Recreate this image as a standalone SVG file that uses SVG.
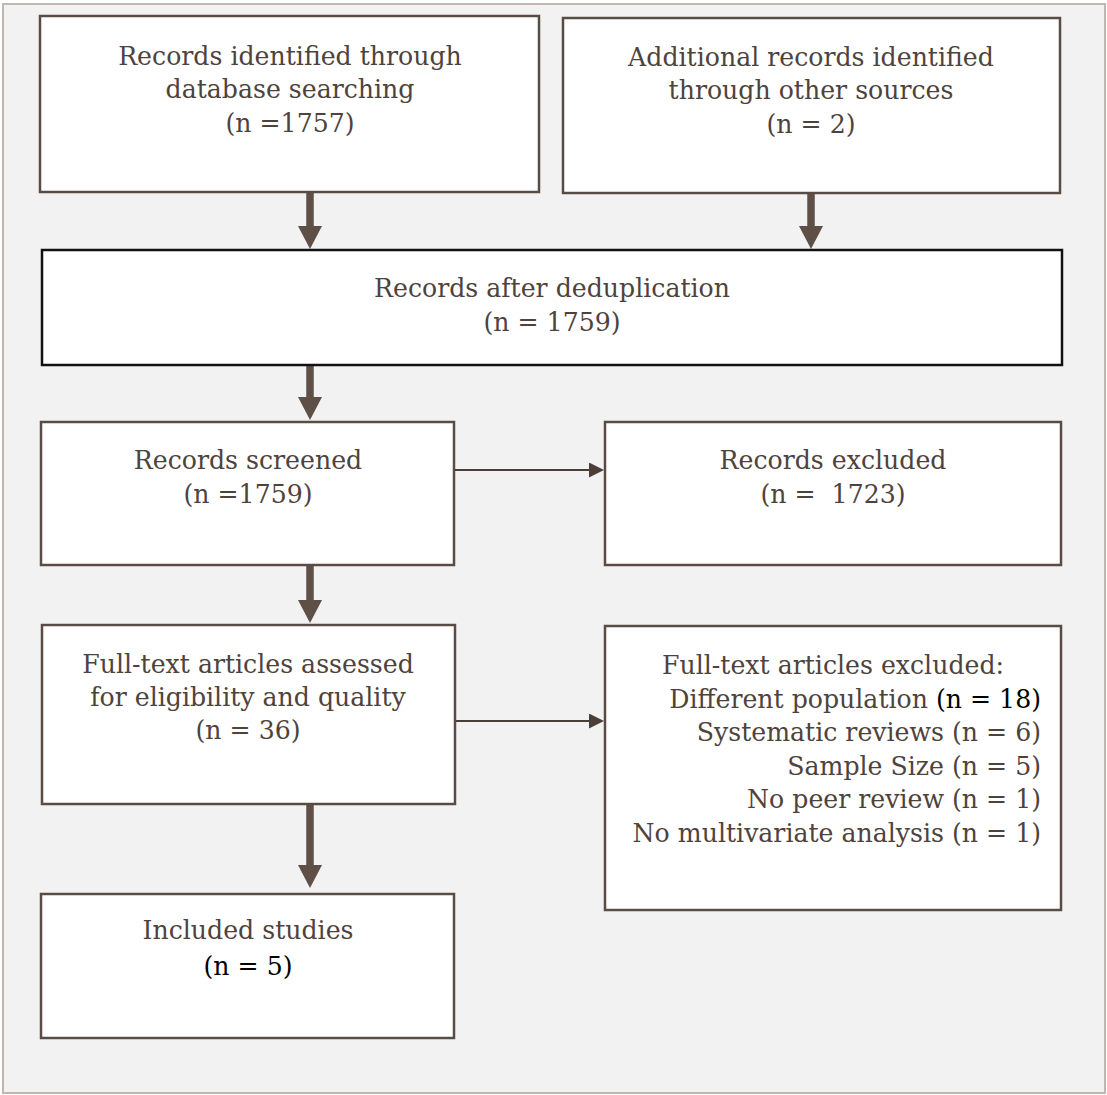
<svg xmlns="http://www.w3.org/2000/svg" width="1107" height="1095" viewBox="0 0 1107 1095">
  <defs>
    <style>
      .box { fill: #ffffff; stroke: #594c45; stroke-width: 2.5; }
      .boxdark { fill: #ffffff; stroke: #111111; stroke-width: 2.5; }
      .t { font-family: "DejaVu Serif", "Liberation Serif", serif; font-size: 25.2px; fill: #4e433c; text-anchor: middle; }
      .r { text-anchor: end; }
      .k { fill: #000000; }
      .thick { stroke: #5e5047; stroke-width: 7.5; fill: none; marker-end: url(#bigHead); }
      .thin { stroke: #4a3f38; stroke-width: 2; fill: none; marker-end: url(#smallHead); }
    </style>
    <marker id="bigHead" markerUnits="userSpaceOnUse" markerWidth="24" markerHeight="24" viewBox="0 0 23 24" refX="1" refY="12" orient="auto">
      <path d="M0,0 L23,12 L0,24 Z" fill="#5e5047"/>
    </marker>
    <marker id="smallHead" markerUnits="userSpaceOnUse" markerWidth="15" markerHeight="15" viewBox="0 0 15 15" refX="1" refY="7.5" orient="auto">
      <path d="M0,0 L15,7.5 L0,15 Z" fill="#4a3f38"/>
    </marker>
  </defs>

  <rect id="frame" x="3" y="4" width="1102" height="1089" fill="#f2f2f2" stroke="#c2b7b0" stroke-width="2"/>

  <g id="connectors">
    <line class="thick" x1="310" y1="193" x2="310" y2="227"/>
    <line class="thick" x1="811" y1="194" x2="811" y2="227"/>
    <line class="thick" x1="310" y1="366" x2="310" y2="398"/>
    <line class="thick" x1="310" y1="566" x2="310" y2="601"/>
    <line class="thick" x1="310" y1="805" x2="310" y2="866"/>
    <line class="thin" x1="455" y1="470" x2="590" y2="470"/>
    <line class="thin" x1="455" y1="721" x2="590" y2="721"/>
  </g>

  <g id="node-db">
    <rect class="box" x="40" y="16" width="499" height="176"/>
    <text class="t" x="290" y="65">Records identified through</text>
    <text class="t" x="290" y="98">database searching</text>
    <text class="t" x="290" y="132">(n =1757)</text>
  </g>

  <g id="node-other">
    <rect class="box" x="563" y="18" width="497" height="175"/>
    <text class="t" x="811" y="66">Additional records identified</text>
    <text class="t" x="811" y="99">through other sources</text>
    <text class="t" x="811" y="133">(n = 2)</text>
  </g>

  <g id="node-dedup">
    <rect class="boxdark" x="42" y="250" width="1020" height="115"/>
    <text class="t" x="552" y="297">Records after deduplication</text>
    <text class="t" x="552" y="331">(n = 1759)</text>
  </g>

  <g id="node-screened">
    <rect class="box" x="41" y="422" width="413" height="143"/>
    <text class="t" x="248" y="469">Records screened</text>
    <text class="t" x="248" y="503">(n =1759)</text>
  </g>

  <g id="node-excluded">
    <rect class="box" x="605" y="422" width="456" height="143"/>
    <text class="t" x="833" y="469">Records excluded</text>
    <text class="t" x="833" y="503" xml:space="preserve">(n =  1723)</text>
  </g>

  <g id="node-fulltext">
    <rect class="box" x="42" y="625" width="413" height="179"/>
    <text class="t" x="248" y="673">Full-text articles assessed</text>
    <text class="t" x="248" y="706">for eligibility and quality</text>
    <text class="t" x="248" y="739">(n = 36)</text>
  </g>

  <g id="node-ft-excluded">
    <rect class="box" x="605" y="626" width="456" height="284"/>
    <text class="t" x="833" y="674">Full-text articles excluded:</text>
    <text class="t r" x="1041" y="708">Different population <tspan class="k">(n = 18)</tspan></text>
    <text class="t r" x="1041" y="741">Systematic reviews (n = 6)</text>
    <text class="t r" x="1041" y="775">Sample Size (n = 5)</text>
    <text class="t r" x="1041" y="808">No peer review (n = 1)</text>
    <text class="t r" x="1041" y="842">No multivariate analysis (n = 1)</text>
  </g>

  <g id="node-included">
    <rect class="box" x="41" y="894" width="413" height="144"/>
    <text class="t" x="248" y="939">Included studies</text>
    <text class="t k" x="248" y="975">(n = 5)</text>
  </g>
</svg>
